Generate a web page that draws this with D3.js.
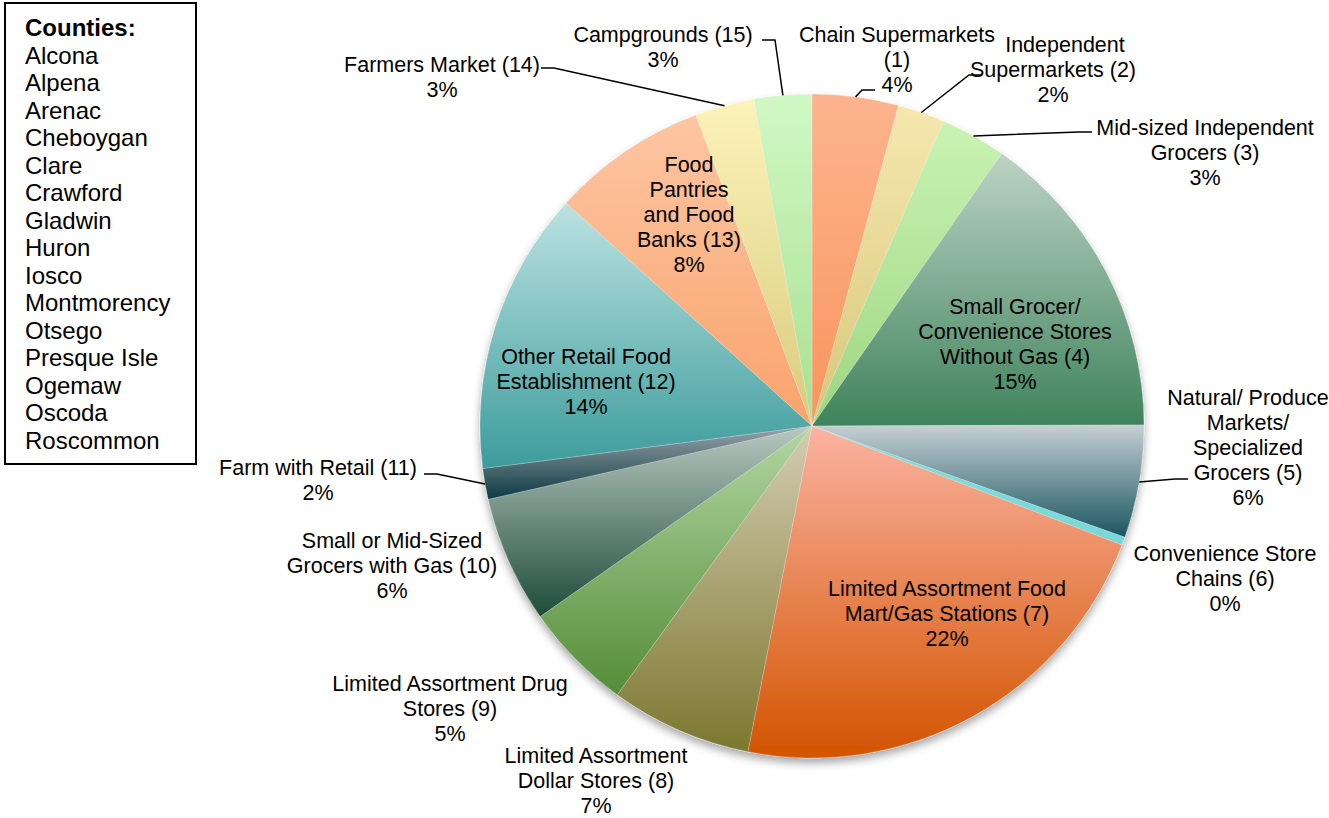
<!DOCTYPE html>
<html>
<head>
<meta charset="utf-8">
<script src="https://cdn.jsdelivr.net/npm/d3@7/dist/d3.min.js"></script>
<style>
  body { margin: 0; background: #fff; }
  text { font-family: "Liberation Sans", Arial, sans-serif; fill: #000; }
</style>
</head>
<body>
<script>
// categories (line breaks = where the label wraps)
var categories = [
  "Chain Supermarkets\n(1)",
  "\u00a0\u00a0\u00a0\u00a0Independent\nSupermarkets (2)",
  "Mid-sized Independent\nGrocers (3)",
  "Small Grocer/\nConvenience Stores\nWithout Gas (4)",
  "Natural/ Produce\nMarkets/\nSpecialized\nGrocers (5)",
  "Convenience Store\nChains (6)",
  "Limited Assortment Food\nMart/Gas Stations (7)",
  "Limited Assortment\nDollar Stores (8)",
  "Limited Assortment Drug\nStores (9)",
  "Small or Mid-Sized\nGrocers with Gas (10)",
  "Farm with Retail (11)",
  "Other Retail Food\nEstablishment (12)",
  "Food\nPantries\nand Food\nBanks (13)",
  "Farmers Market (14)",
  "Campgrounds (15)"
];

// share of establishments, percent
var values = [4.2, 2.3, 3.2, 15.3, 5.5, 0.4, 22.3, 6.9, 5.3, 6.2, 1.5, 13.8, 7.6, 2.9, 2.8];

var counties = ["Alcona", "Alpena", "Arenac", "Cheboygan", "Clare", "Crawford", "Gladwin",
  "Huron", "Iosco", "Montmorency", "Otsego", "Presque Isle", "Ogemaw", "Oscoda", "Roscommon"];

// gradient colours per slice, top -> bottom
var colorTop = ["#fdb48e", "#f6e8ae", "#c9f3b3", "#bdd3c5", "#c6d0d4", "#80dcdc", "#fbb3a2",
  "#d4cdb2", "#b3d6a3", "#b9c8c0", "#9aa4aa", "#bce2e2", "#fdc6a3", "#fcf3b9", "#d0f8c4"];
var colorBottom = ["#f8955c", "#d6c77c", "#9dd681", "#3e835c", "#1a5560", "#78d8d8", "#d35400",
  "#7c772f", "#548d38", "#1c4c3a", "#0c3a42", "#3c9c9b", "#f9a36c", "#d9cb7f", "#a8e090"];

// label block centre relative to the pie centre
var labelOffset = [[85, -367], [241, -357], [393, -274], [203, -82], [436, 21], [413, 152],
  [135, 187], [-216, 354], [-362, 282], [-420, 139], [-494, 54], [-226, -45], [-123, -212],
  [-370, -349], [-149, -379]];

// leader line end, relative to label centre
var leaderEnd = { 0: [-22, 31], 1: [-71, 6], 2: [-113, -20], 4: [-60, 32], 10: [106, -6],
  13: [99, -9], 14: [99, -7] };

var width = 1329, height = 818;
var cx = 812, cy = 426, radius = 332;
var lineH = 25;

var svg = d3.select("body").append("svg")
  .attr("width", width)
  .attr("height", height);

var defs = svg.append("defs");

var shadow = defs.append("filter")
  .attr("id", "shadow")
  .attr("x", "-10%").attr("y", "-10%")
  .attr("width", "120%").attr("height", "120%");
shadow.append("feDropShadow")
  .attr("dx", 0).attr("dy", 5)
  .attr("stdDeviation", 4)
  .attr("flood-color", "#000")
  .attr("flood-opacity", 0.35);

values.forEach(function(v, i) {
  var g = defs.append("linearGradient")
    .attr("id", "grad" + i)
    .attr("x1", 0).attr("y1", 0).attr("x2", 0).attr("y2", 1);
  g.append("stop").attr("offset", "0%").attr("stop-color", colorTop[i]);
  g.append("stop").attr("offset", "100%").attr("stop-color", colorBottom[i]);
});

var data = values.map(function(v, i) {
  return { name: categories[i], value: v, i: i };
});

var pie = d3.pie()
  .sort(null)
  .value(function(d) { return d.value; });

var arc = d3.arc()
  .innerRadius(0)
  .outerRadius(radius);

var arcs = pie(data);

var pieG = svg.append("g")
  .attr("transform", "translate(" + cx + "," + cy + ")")
  .attr("filter", "url(#shadow)");

pieG.selectAll("path")
  .data(arcs)
  .enter().append("path")
    .attr("d", arc)
    .attr("fill", function(d) { return "url(#grad" + d.data.i + ")"; })
    .attr("stroke", "rgba(255,255,255,0.35)")
    .attr("stroke-width", 0.6);

// labels
var labelG = svg.append("g")
  .attr("transform", "translate(" + cx + "," + cy + ")");

arcs.forEach(function(d) {
  var i = d.data.i;
  var lines = d.data.name.split("\n");
  lines.push(Math.round(d.data.value) + "%");
  var lx = labelOffset[i][0], ly = labelOffset[i][1];
  var top = ly - (lines.length - 1) / 2 * lineH;

  var t = labelG.append("text")
    .attr("text-anchor", "middle")
    .style("font-size", "21.5px");
  lines.forEach(function(l, k) {
    t.append("tspan")
      .attr("x", lx)
      .attr("y", top + k * lineH)
      .attr("dy", "0.36em")
      .text(l);
  });

  if (leaderEnd[i]) {
    var mid = (d.startAngle + d.endAngle) / 2;
    var sx = Math.sin(mid) * radius, sy = -Math.cos(mid) * radius;
    var ex = lx + leaderEnd[i][0], ey = ly + leaderEnd[i][1];
    var bx = ex + (sx < ex ? -13 : 13);
    labelG.append("path")
      .attr("d", d3.line()([[sx, sy], [bx, ey], [ex, ey]]))
      .attr("fill", "none")
      .attr("stroke", "#000")
      .attr("stroke-width", 1.5);
  }
});

// counties box
var legend = svg.append("g");
legend.append("rect")
  .attr("x", 5).attr("y", 3)
  .attr("width", 191).attr("height", 461)
  .attr("fill", "#fff")
  .attr("stroke", "#000")
  .attr("stroke-width", 2);

legend.append("text")
  .attr("x", 25).attr("y", 36)
  .style("font-size", "24px")
  .style("font-weight", "bold")
  .text("Counties:");

legend.selectAll("text.county")
  .data(counties)
  .enter().append("text")
    .attr("class", "county")
    .attr("x", 25)
    .attr("y", function(d, i) { return 36 + (i + 1) * 27.5; })
    .style("font-size", "24px")
    .text(function(d) { return d; });
</script>
</body>
</html>
